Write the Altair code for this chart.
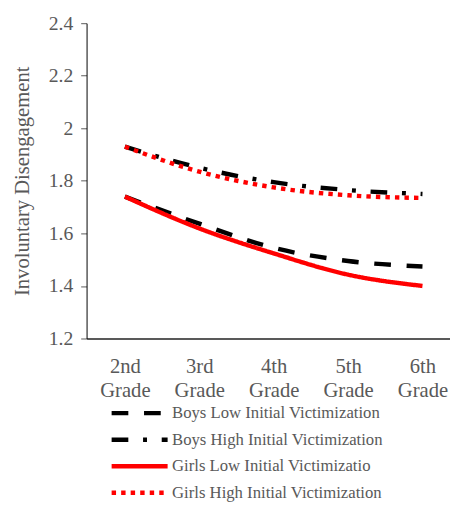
import json
import altair as alt
import pandas as pd

grades = ["2nd Grade", "3rd Grade", "4th Grade", "5th Grade", "6th Grade"]
series_names = [
    "Boys Low Initial Victimization",
    "Boys High Initial Victimization",
    "Girls Low Initial Victimizatio",
    "Girls High Initial Victimization",
]
boys_low = [1.74, 1.637, 1.545, 1.495, 1.474]
boys_high = [1.93, 1.85, 1.795, 1.765, 1.75]
girls_low = [1.74, 1.619, 1.524, 1.443, 1.40]
girls_high = [1.93, 1.835, 1.775, 1.745, 1.735]
y_ticks = [1.2, 1.4, 1.6, 1.8, 2.0, 2.2, 2.4]

colors = ["#000000", "#000000", "#FF0000", "#FF0000"]
dashes = [[17, 16], [17, 15, 4, 15], [1, 0], [4.5, 5.2]]

rows = []
for name, vals in zip(series_names, [boys_low, boys_high, girls_low, girls_high]):
    for i, (g, v) in enumerate(zip(grades, vals)):
        rows.append({"series": name, "grade": g, "idx": i, "value": v})
df = pd.DataFrame(rows)

FONT = "Liberation Serif"
GRAY = "#595959"

label_expr = "split(" + json.dumps(grades) + "[datum.value], ' ')"

legend = alt.Legend(
    title=None,
    orient="none",
    legendX=23,
    legendY=385,
    direction="vertical",
    symbolType="M-1,0L5,0",
    symbolSize=361,
    symbolStrokeWidth=4.5,
    labelFont=FONT,
    labelFontSize=17,
    labelColor=GRAY,
    labelOffset=40,
    labelLimit=400,
    rowPadding=6,
    padding=0,
)

chart = (
    alt.Chart(df)
    .mark_line(interpolate="monotone", strokeWidth=4.5)
    .encode(
        x=alt.X(
            "idx:Q",
            scale=alt.Scale(domain=[-0.515, 4.37], nice=False, zero=False),
            axis=alt.Axis(
                values=list(range(len(grades))),
                labelExpr=label_expr,
                title=None,
                ticks=False,
                grid=False,
                domainColor=GRAY,
                domainWidth=2,
                labelFont=FONT,
                labelFontSize=21,
                labelColor=GRAY,
                labelPadding=18,
                labelLineHeight=24,
            ),
        ),
        y=alt.Y(
            "value:Q",
            scale=alt.Scale(domain=[1.2, 2.4], nice=False, zero=False),
            axis=alt.Axis(
                values=y_ticks,
                format=".1~f",
                title="Involuntary Disengagement",
                titleFont=FONT,
                titleFontSize=21,
                titleFontWeight="normal",
                titleColor=GRAY,
                titlePadding=16,
                grid=False,
                domainColor="#000000",
                domainWidth=1,
                tickColor=GRAY,
                tickSize=6,
                tickWidth=1,
                labelFont=FONT,
                labelFontSize=20,
                labelColor=GRAY,
                labelPadding=8,
            ),
        ),
        color=alt.Color(
            "series:N",
            scale=alt.Scale(domain=series_names, range=colors),
            sort=series_names,
            legend=legend,
        ),
        strokeDash=alt.StrokeDash(
            "series:N",
            scale=alt.Scale(domain=series_names, range=dashes),
            sort=series_names,
            legend=legend,
        ),
    )
    .properties(
        width=370,
        height=321,
        autosize=alt.AutoSizeParams(type="none"),
        padding={"left": 80, "top": 11, "right": 0, "bottom": 163},
    )
    .configure_view(stroke=None)
)

chart.save("out.html", embed_options={"renderer": "svg", "actions": False})
